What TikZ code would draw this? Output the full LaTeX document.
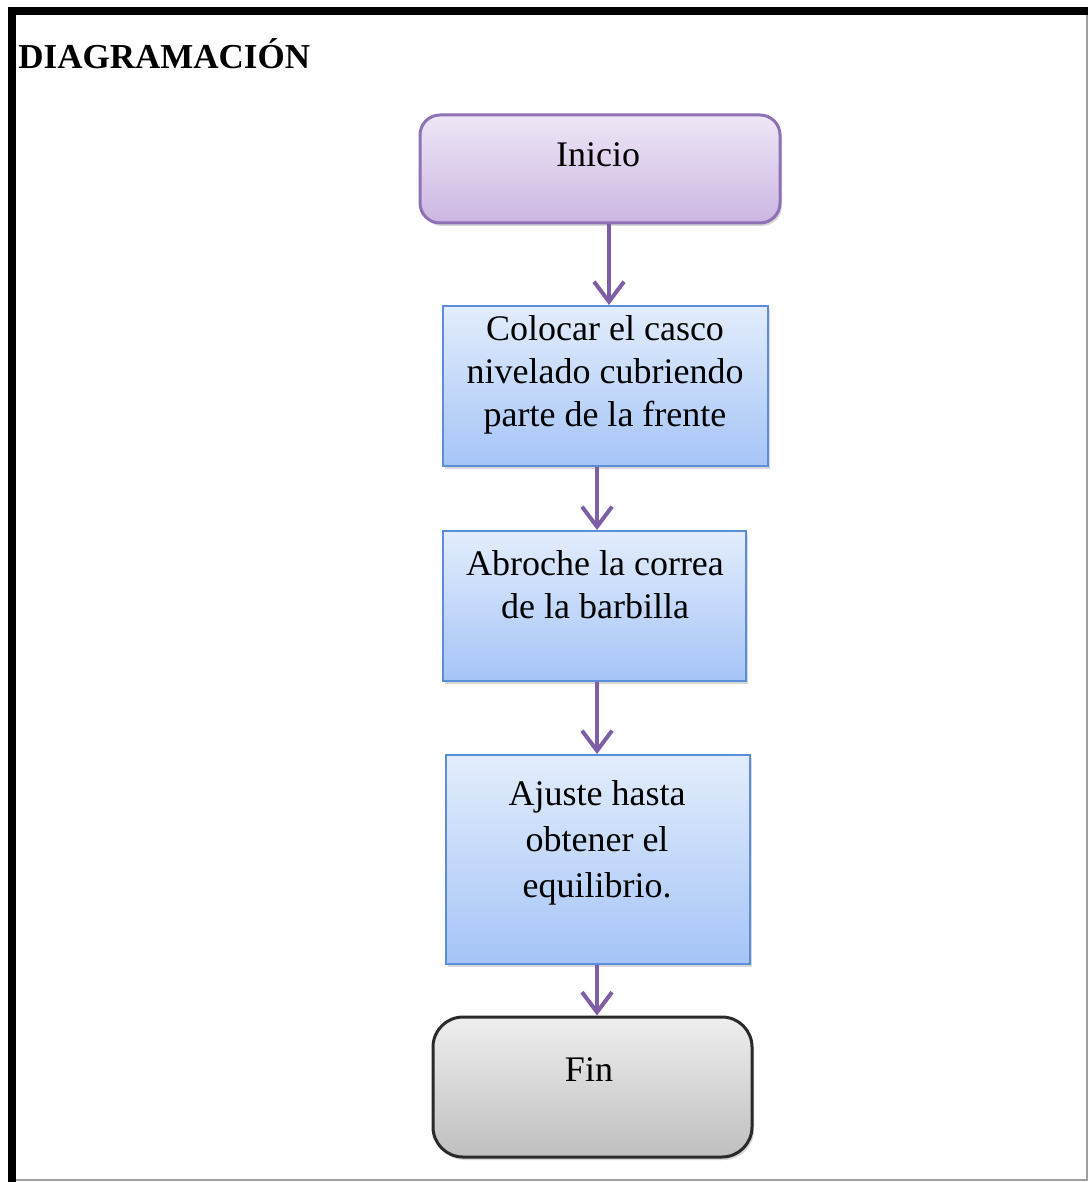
\documentclass[tikz,border=0pt]{standalone}
\usepackage{fontspec}
\setmainfont{Liberation Serif}
\usetikzlibrary{arrows.meta,shadows}
\definecolor{arrowc}{HTML}{7E5FA5}
\definecolor{startdraw}{HTML}{8E72B5}
\definecolor{starttop}{HTML}{EEE7F6}
\definecolor{startbot}{HTML}{CBB6E2}
\definecolor{procdraw}{HTML}{5B8ED6}
\definecolor{proctop}{HTML}{E3EDFC}
\definecolor{procbot}{HTML}{A5C4F7}
\definecolor{enddraw}{HTML}{2A2A2A}
\definecolor{endtop}{HTML}{EEEEEE}
\definecolor{endbot}{HTML}{BFBFBF}
\begin{document}
\begin{tikzpicture}[x=0.5pt,y=-0.5pt,
  shadowed/.style={drop shadow={shadow xshift=1pt,shadow yshift=-1.5pt,opacity=0.3}},
  startbox/.style={rectangle,rounded corners=10pt,draw=startdraw,line width=1.5pt,
    top color=starttop,bottom color=startbot,shadowed,inner sep=0pt},
  procbox/.style={rectangle,draw=procdraw,line width=1pt,
    top color=proctop,bottom color=procbot,shadowed,inner sep=0pt},
  endbox/.style={rectangle,rounded corners=15pt,draw=enddraw,line width=1.5pt,
    top color=endtop,bottom color=endbot,shadowed,inner sep=0pt},
  boxtext/.style={inner sep=0pt,align=center,text=black,
    font=\fontsize{18pt}{21.5pt}\selectfont},
  flow/.style={draw=arrowc,line width=2pt,-{Straight Barb[length=10pt,width=15pt]}}]
\useasboundingbox (0,0) rectangle (1088,1182);
\fill[white] (0,0) rectangle (1088,1182);
% frame
\draw[gray!75,line width=0.75pt] (12,11) rectangle (1087,1180);
\draw[black,line width=4pt] (12,1182) -- (12,11) -- (1088,11);
% title
\node[anchor=base west,inner sep=0pt,font=\bfseries\fontsize{17.5pt}{20pt}\selectfont] (title) at (18,69) {DIAGRAMACIÓN};
% boxes
\node[startbox,minimum width=180pt,minimum height=54pt] (ini) at (600,169) {};
\node[procbox,minimum width=162.5pt,minimum height=80pt] (p1) at (605.5,386) {};
\node[procbox,minimum width=151.5pt,minimum height=75pt] (p2) at (594.5,606) {};
\node[procbox,minimum width=152pt,minimum height=104.5pt] (p3) at (598,859.5) {};
\node[endbox,minimum width=159.5pt,minimum height=70pt] (fin) at (592.5,1087) {};
% texts
\node[boxtext] (tini) at (598,155) {Inicio};
\node[boxtext] (tp1) at (605,375) {Colocar el casco\\nivelado cubriendo\\parte de la frente};
\node[boxtext] (tp2) at (595,585) {Abroche la correa\\de la barbilla};
\node[boxtext,font=\fontsize{18pt}{23pt}\selectfont] (tp3) at (597,843) {Ajuste hasta\\obtener el\\equilibrio.};
\node[boxtext] (tfin) at (589,1070) {Fin};
% connectors
\coordinate (c1) at (609,0);
\coordinate (c2) at (597,0);
\draw[flow] (ini.south -| c1) -- (p1.north -| c1);
\draw[flow] (p1.south -| c2) -- (p2.north -| c2);
\draw[flow] (p2.south -| c2) -- (p3.north -| c2);
\draw[flow] (p3.south -| c2) -- (fin.north -| c2);
\end{tikzpicture}
\end{document}
